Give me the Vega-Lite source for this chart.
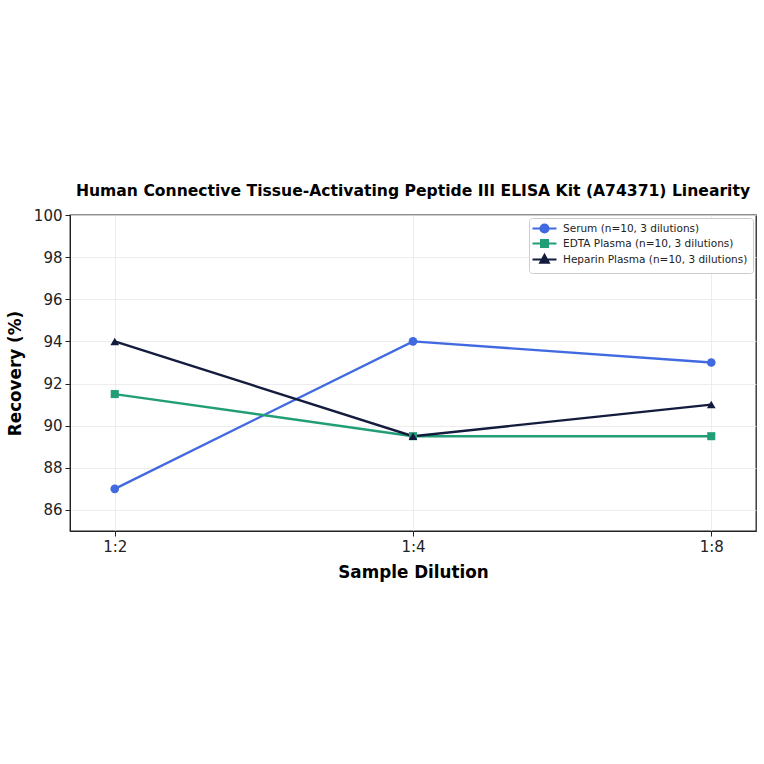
{
  "$schema": "https://vega.github.io/schema/vega-lite/v6.json",
  "width": 686,
  "height": 316,
  "autosize": {"type": "none"},
  "padding": {"left": 70, "top": 215, "right": 8, "bottom": 233},
  "background": "white",
  "title": {
    "text": "Human Connective Tissue-Activating Peptide III ELISA Kit (A74371) Linearity",
    "font": "DejaVu Sans",
    "fontSize": 15.6,
    "fontWeight": "bold",
    "color": "black",
    "anchor": "middle",
    "offset": 8
  },
  "data": {
    "values": [
      {"series": "Serum (n=10, 3 dilutions)", "dilution": "1:2", "recovery": 87},
      {"series": "Serum (n=10, 3 dilutions)", "dilution": "1:4", "recovery": 94},
      {"series": "Serum (n=10, 3 dilutions)", "dilution": "1:8", "recovery": 93},
      {"series": "EDTA Plasma (n=10, 3 dilutions)", "dilution": "1:2", "recovery": 91.5},
      {"series": "EDTA Plasma (n=10, 3 dilutions)", "dilution": "1:4", "recovery": 89.5},
      {"series": "EDTA Plasma (n=10, 3 dilutions)", "dilution": "1:8", "recovery": 89.5},
      {"series": "Heparin Plasma (n=10, 3 dilutions)", "dilution": "1:2", "recovery": 94},
      {"series": "Heparin Plasma (n=10, 3 dilutions)", "dilution": "1:4", "recovery": 89.5},
      {"series": "Heparin Plasma (n=10, 3 dilutions)", "dilution": "1:8", "recovery": 91}
    ]
  },
  "config": {
    "view": {"stroke": "#222222", "strokeWidth": 1.3},
    "axis": {
      "labelFont": "DejaVu Sans",
      "titleFont": "DejaVu Sans",
      "labelFontSize": 15,
      "titleFontSize": 16.8,
      "titleFontWeight": "bold",
      "labelColor": "#222222",
      "titleColor": "black",
      "gridColor": "#e8e8e8",
      "gridWidth": 0.8,
      "tickColor": "#222222",
      "domainColor": "#222222",
      "tickSize": 5,
      "labelPadding": 3
    }
  },
  "encoding": {
    "x": {
      "field": "dilution",
      "type": "ordinal",
      "sort": ["1:2", "1:4", "1:8"],
      "scale": {"type": "point", "padding": 0.15},
      "axis": {"labelAngle": 0, "title": "Sample Dilution", "titlePadding": 10, "grid": true}
    },
    "y": {
      "field": "recovery",
      "type": "quantitative",
      "scale": {"domain": [85, 100], "nice": false, "zero": false},
      "axis": {"values": [86, 88, 90, 92, 94, 96, 98, 100], "title": "Recovery (%)", "titlePadding": 9, "grid": true}
    }
  },
  "layer": [
    {
      "mark": {"type": "line", "strokeWidth": 2.4},
      "encoding": {
        "color": {
          "field": "series",
          "type": "nominal",
          "scale": {
            "domain": ["Serum (n=10, 3 dilutions)", "EDTA Plasma (n=10, 3 dilutions)", "Heparin Plasma (n=10, 3 dilutions)"],
            "range": ["#4169E1", "#229E77", "#141C3D"]
          },
          "legend": {
            "title": null,
            "orient": "top-right",
            "offset": 3,
            "labelFont": "DejaVu Sans",
            "labelFontSize": 10.5,
            "labelColor": "#222222",
            "labelLimit": 400,
            "strokeColor": "#cccccc",
            "fillColor": "white",
            "cornerRadius": 3,
            "padding": 5,
            "rowPadding": -2,
            "symbolSize": 64,
            "symbolStrokeWidth": 2.2,
            "labelOffset": 18,
            "encode": {
              "symbols": {
                "update": {
                  "shape": {"signal": "datum.index === 0 ? 'M-1.75,0H4.25M2.25,0A1,1,0,1,1,0.25,0A1,1,0,1,1,2.25,0Z' : datum.index === 1 ? 'M-1.75,0H4.25M0.4,-0.85H2.1V0.85H0.4Z' : 'M-1.75,0H4.25M1.25,-1.1L2.3,0.8L0.2,0.8Z'"},
                  "fill": {"scale": "color", "field": "value"},
                  "stroke": {"scale": "color", "field": "value"},
                  "fillOpacity": {"value": 1},
                  "strokeOpacity": {"value": 1}
                }
              }
            }
          }
        }
      }
    },
    {
      "transform": [{"filter": "datum.series === 'Serum (n=10, 3 dilutions)'"}],
      "mark": {"type": "point", "shape": "circle", "filled": true, "opacity": 1, "size": 75, "color": "#4169E1"}
    },
    {
      "transform": [{"filter": "datum.series === 'EDTA Plasma (n=10, 3 dilutions)'"}],
      "mark": {"type": "point", "shape": "square", "filled": true, "opacity": 1, "size": 65, "color": "#229E77"}
    },
    {
      "transform": [{"filter": "datum.series === 'Heparin Plasma (n=10, 3 dilutions)'"}],
      "mark": {"type": "point", "shape": "triangle-up", "filled": true, "opacity": 1, "size": 75, "color": "#141C3D"}
    }
  ]
}
